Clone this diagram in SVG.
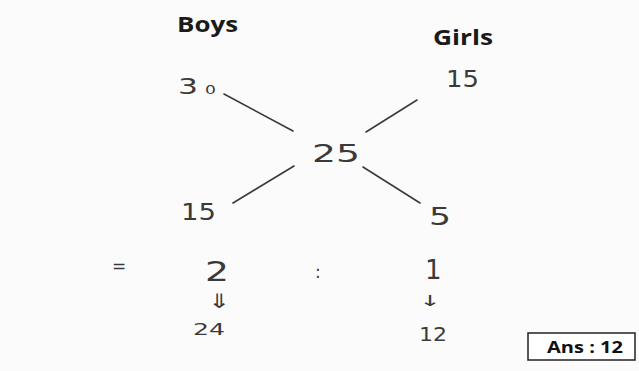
<svg xmlns="http://www.w3.org/2000/svg" width="639" height="371" viewBox="0 0 639 371">
<style>
.hdr{font-family:"Open Sans","Liberation Sans",sans-serif;font-weight:bold;font-size:21px;fill:#1a1a1a}
.num{font-family:"DejaVu Sans","Liberation Sans",sans-serif;fill:#3a3a3a}
.ln{stroke:#3a3a3a;stroke-width:1.6;fill:none;stroke-linecap:round}
.ans{font-family:"Open Sans","Liberation Sans",sans-serif;font-weight:bold;font-size:16px;fill:#111}
</style>
<rect width="639" height="371" fill="#fbfbfb"/>
<g id="boys"><text class="hdr" x="177" y="32" textLength="61" lengthAdjust="spacingAndGlyphs">Boys</text></g>
<g id="girls"><text class="hdr" x="433" y="45" textLength="60" lengthAdjust="spacingAndGlyphs">Girls</text></g>
<g id="n30"><text class="num" x="178" y="94" font-size="22" textLength="38" lengthAdjust="spacingAndGlyphs">3<tspan font-size="12" dx="5">0</tspan></text></g>
<g id="n15a"><text class="num" x="446" y="87" font-size="23" textLength="33" lengthAdjust="spacingAndGlyphs">15</text></g>
<g id="n25"><text class="num" x="312" y="162" font-size="24" textLength="48" lengthAdjust="spacingAndGlyphs">25</text></g>
<g id="n15b"><text class="num" x="181" y="220" font-size="23" textLength="35" lengthAdjust="spacingAndGlyphs">15</text></g>
<g id="n5"><text class="num" x="429" y="225" font-size="24" textLength="22" lengthAdjust="spacingAndGlyphs">5</text></g>
<g id="connectors">
<line class="ln" x1="224" y1="94" x2="293" y2="131"/>
<line class="ln" x1="417" y1="100" x2="366" y2="132"/>
<line class="ln" x1="294" y1="166" x2="233" y2="203"/>
<line class="ln" x1="363" y1="167" x2="420" y2="203"/>
</g>
<g id="ratio">
<text class="num" x="112" y="272" font-size="17">=</text>
<text class="num" x="205" y="281" font-size="27" textLength="24" lengthAdjust="spacingAndGlyphs">2</text>
<text class="num" x="315" y="278" font-size="17">:</text>
<text class="num" x="425" y="279" font-size="26">1</text>
<text class="num" x="208" y="308" font-size="20" textLength="23" lengthAdjust="spacingAndGlyphs">⇓</text>
<text class="num" x="419" y="306" font-size="15" textLength="22" lengthAdjust="spacingAndGlyphs">↓</text>
<text class="num" x="193" y="335" font-size="15" textLength="32" lengthAdjust="spacingAndGlyphs">24</text>
<text class="num" x="419" y="341" font-size="19" textLength="28" lengthAdjust="spacingAndGlyphs">12</text>
</g>
<g id="answer">
<rect x="528" y="333" width="107" height="27" fill="#ffffff" stroke="#222" stroke-width="1.5"/>
<text class="ans" x="547" y="352.5" textLength="76" lengthAdjust="spacingAndGlyphs">Ans : 12</text>
</g>
</svg>
